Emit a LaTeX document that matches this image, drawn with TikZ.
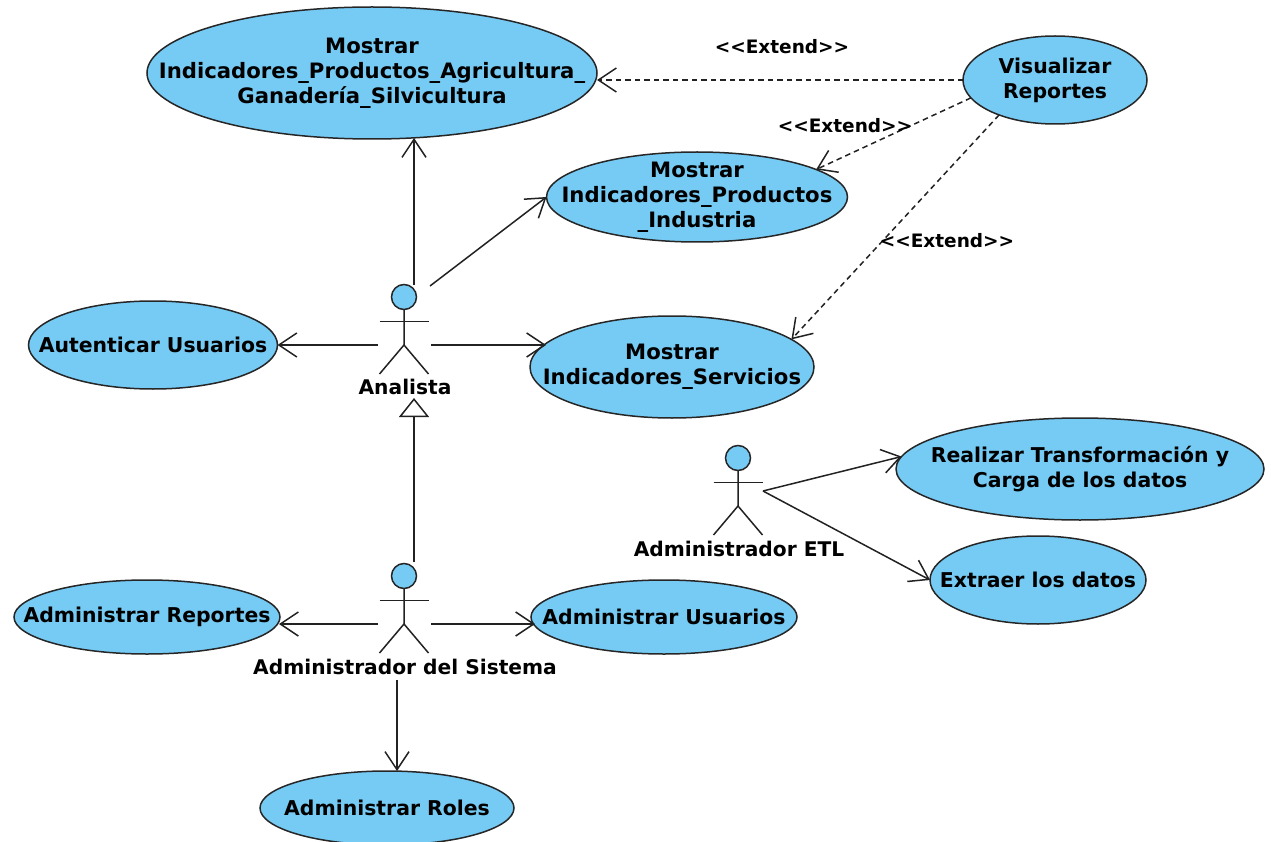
\documentclass[tikz,border=0pt]{standalone}
\usepackage{fontspec}
\setmainfont{DejaVu Sans}
\usetikzlibrary{shapes.geometric,arrows.meta}
\definecolor{uc}{HTML}{76CBF4}
\definecolor{ink}{HTML}{222222}
\newcommand{\widertext}{\fontsize{21.2}{25}\selectfont}
\tikzset{
  uc/.style={ellipse,draw=black!85,line width=1.5pt,fill=uc,inner sep=0pt,outer sep=0pt},
  uct/.style={font=\fontsize{20.4}{25}\selectfont\bfseries,text=black,inner sep=0pt,align=center},
  lab/.style={font=\fontsize{20.2}{25}\selectfont\bfseries,text=black,inner sep=0pt},
  stereo/.style={font=\fontsize{18.5}{25}\selectfont\bfseries,text=black,inner sep=0pt},
  assoc/.style={ink,line width=1.5pt,-{Straight Barb[length=18pt,width=24pt,line width=1.5pt]}},
  ext/.style={assoc,dash pattern=on 5.5pt off 4pt},
  gen/.style={ink,line width=1.5pt,-{Triangle[open,length=19pt,width=30pt,line width=1.5pt,fill=white]}},
  limb/.style={ink,line width=1.5pt},
  head/.style={circle,draw=black!85,line width=1.5pt,fill=uc,minimum size=25pt,inner sep=0pt,outer sep=0pt}
}
\newcommand{\usecase}[6]{% name, x, y, w, h, text
  \node[uc,minimum width=#4pt,minimum height=#5pt] (#1) at (#2,#3) {};
  \node[uct] (#1t) at (#1.center) {#6};
}
\newcommand{\actor}[3]{% name, x, head y
  \node[head] (#1) at (#2,#3) {};
  \draw[limb] (#1.south) -- ++(0,35.5) coordinate (#1hip) -- ++(-24.5,29);
  \draw[limb] (#1hip) -- ++(24.5,29);
  \draw[limb] ([shift={(-24.5,12)}]#1.south) -- ++(49,0);
}
\begin{document}
\begin{tikzpicture}[x=1pt,y=-1pt]
\useasboundingbox (0,0) rectangle (1271,842);
\usecase{ag}{372}{73}{450}{132}{\widertext Mostrar\\\widertext Indicadores\_Productos\_Agricultura\_\\\widertext Ganadería\_Silvicultura}
\usecase{ind}{697}{197}{301}{90}{\widertext Mostrar\\\widertext Indicadores\_Productos\\\widertext \_Industria}
\usecase{ser}{672}{367}{284}{102}{\widertext Mostrar\\\widertext Indicadores\_Servicios}
\usecase{aut}{153}{345}{249}{88}{Autenticar Usuarios}
\usecase{vis}{1055}{80}{184}{88}{Visualizar\\Reportes}
\usecase{rea}{1080}{469}{368}{102}{Realizar Transformación y\\Carga de los datos}
\usecase{ext}{1038}{580}{216}{88}{Extraer los datos}
\usecase{arep}{147}{617}{266}{74}{Administrar Reportes}
\usecase{ausr}{664}{617}{266}{74}{Administrar Usuarios}
\usecase{arol}{387}{808}{254}{74}{Administrar Roles}

\actor{an}{404}{297}
\actor{ad}{404}{576}
\actor{et}{738}{458}
\node[lab] (anl) at (405,387) {Analista};
\node[lab] (adl) at (405,667) {Administrador del Sistema};
\node[lab] (etl) at (739,549) {Administrador ETL};

\coordinate (anT) at (414,285);
\coordinate (anR) at (430,286);
\coordinate (anW) at (378,345);
\coordinate (anE) at (431,345);
\coordinate (anB) at (414,398);
\coordinate (adT) at (414,562);
\coordinate (adW) at (378,624);
\coordinate (adE) at (431,624);
\coordinate (adB) at (397,680);
\coordinate (etE) at (763,491);
\coordinate (agB) at (414,138);
\coordinate (serL) at (546,345);
\coordinate (arepR) at (279,624);
\coordinate (ausrL) at (535,624);
\coordinate (arolT) at (397,771);

\draw[assoc] (anT) -- (agB);
\draw[assoc] (anR) -- (ind.west);
\draw[assoc] (anW) -- (aut.east);
\draw[assoc] (anE) -- (serL);
\draw[gen] (adT) -- (anB);
\draw[assoc] (adW) -- (arepR);
\draw[assoc] (adE) -- (ausrL);
\draw[assoc] (adB) -- (arolT);
\draw[assoc] (etE) -- (rea.176);
\draw[assoc] (etE) -- (ext.west);

\coordinate (agR) at (597,80);
\draw[ext] (vis.west) -- (agR);
\draw[ext] (vis.192) -- (ind.13);
\draw[ext] (vis.212) -- (ser.13);

\node[stereo] (e1) at (782,47) {<{}<Extend>{}>};
\node[stereo] (e2) at (845,126) {<{}<Extend>{}>};
\node[stereo] (e3) at (947,241) {<{}<Extend>{}>};
\end{tikzpicture}
\end{document}
